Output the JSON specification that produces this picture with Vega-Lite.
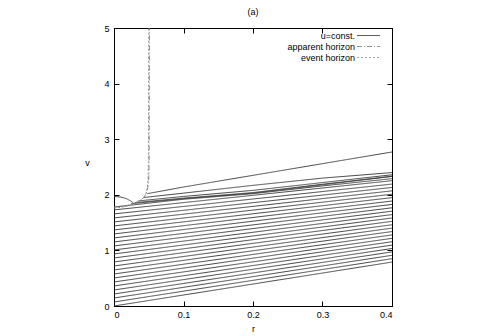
{
  "$schema": "https://vega.github.io/schema/vega-lite/v6.json",
  "width": 278,
  "height": 278,
  "autosize": {"type": "none"},
  "padding": {"left": 114, "top": 28, "right": 88, "bottom": 30},
  "background": "white",
  "title": {"text": "(a)", "fontSize": 9, "font": "Liberation Sans", "fontWeight": "normal", "color": "#000", "offset": 7},
  "config": {
    "view": {"stroke": "#000", "strokeWidth": 1},
    "font": "Liberation Sans",
    "axis": {"labelFont": "Liberation Sans", "labelFontSize": 9, "labelColor": "#000", "tickColor": "#000", "grid": false, "domain": false, "tickSize": -5, "titleFont": "Liberation Sans", "titleFontSize": 9, "titleFontWeight": "normal", "titleColor": "#000"},
    "legend": {"labelFont": "Liberation Sans", "labelFontSize": 9, "labelColor": "#000"}
  },
  "data": {"values": [
    {"k":"u=const.","id":"L0","r":0,"v":0},{"k":"u=const.","id":"L0","r":0.4,"v":0.79},
    {"k":"u=const.","id":"L1","r":0,"v":0.072},{"k":"u=const.","id":"L1","r":0.4,"v":0.851},
    {"k":"u=const.","id":"L2","r":0,"v":0.144},{"k":"u=const.","id":"L2","r":0.4,"v":0.912},
    {"k":"u=const.","id":"L3","r":0,"v":0.216},{"k":"u=const.","id":"L3","r":0.4,"v":0.973},
    {"k":"u=const.","id":"L4","r":0,"v":0.288},{"k":"u=const.","id":"L4","r":0.4,"v":1.034},
    {"k":"u=const.","id":"L5","r":0,"v":0.36},{"k":"u=const.","id":"L5","r":0.4,"v":1.095},
    {"k":"u=const.","id":"L6","r":0,"v":0.432},{"k":"u=const.","id":"L6","r":0.4,"v":1.156},
    {"k":"u=const.","id":"L7","r":0,"v":0.504},{"k":"u=const.","id":"L7","r":0.4,"v":1.217},
    {"k":"u=const.","id":"L8","r":0,"v":0.576},{"k":"u=const.","id":"L8","r":0.4,"v":1.278},
    {"k":"u=const.","id":"L9","r":0,"v":0.648},{"k":"u=const.","id":"L9","r":0.4,"v":1.339},
    {"k":"u=const.","id":"L10","r":0,"v":0.72},{"k":"u=const.","id":"L10","r":0.4,"v":1.4},
    {"k":"u=const.","id":"L11","r":0,"v":0.792},{"k":"u=const.","id":"L11","r":0.4,"v":1.461},
    {"k":"u=const.","id":"L12","r":0,"v":0.864},{"k":"u=const.","id":"L12","r":0.4,"v":1.522},
    {"k":"u=const.","id":"L13","r":0,"v":0.936},{"k":"u=const.","id":"L13","r":0.4,"v":1.583},
    {"k":"u=const.","id":"L14","r":0,"v":1.008},{"k":"u=const.","id":"L14","r":0.4,"v":1.644},
    {"k":"u=const.","id":"L15","r":0,"v":1.08},{"k":"u=const.","id":"L15","r":0.4,"v":1.705},
    {"k":"u=const.","id":"L16","r":0,"v":1.152},{"k":"u=const.","id":"L16","r":0.4,"v":1.766},
    {"k":"u=const.","id":"L17","r":0,"v":1.224},{"k":"u=const.","id":"L17","r":0.4,"v":1.827},
    {"k":"u=const.","id":"L18","r":0,"v":1.296},{"k":"u=const.","id":"L18","r":0.4,"v":1.888},
    {"k":"u=const.","id":"L19","r":0,"v":1.368},{"k":"u=const.","id":"L19","r":0.4,"v":1.949},
    {"k":"u=const.","id":"L20","r":0,"v":1.44},{"k":"u=const.","id":"L20","r":0.4,"v":2.01},
    {"k":"u=const.","id":"L21","r":0,"v":1.512},{"k":"u=const.","id":"L21","r":0.4,"v":2.071},
    {"k":"u=const.","id":"L22","r":0,"v":1.584},{"k":"u=const.","id":"L22","r":0.4,"v":2.132},
    {"k":"u=const.","id":"L23","r":0,"v":1.656},{"k":"u=const.","id":"L23","r":0.4,"v":2.193},
    {"k":"u=const.","id":"L24","r":0,"v":1.728},{"k":"u=const.","id":"L24","r":0.4,"v":2.254},
    {"k":"u=const.","id":"A","r":0,"v":1.78},{"k":"u=const.","id":"A","r":0.1,"v":1.92},{"k":"u=const.","id":"A","r":0.2,"v":2.02},{"k":"u=const.","id":"A","r":0.3,"v":2.16},{"k":"u=const.","id":"A","r":0.4,"v":2.29},
    {"k":"u=const.","id":"B1","r":0.025,"v":1.84},{"k":"u=const.","id":"B1","r":0.1,"v":1.93},{"k":"u=const.","id":"B1","r":0.2,"v":2.03},{"k":"u=const.","id":"B1","r":0.3,"v":2.18},{"k":"u=const.","id":"B1","r":0.4,"v":2.33},
    {"k":"u=const.","id":"B2","r":0.03,"v":1.86},{"k":"u=const.","id":"B2","r":0.1,"v":1.94},{"k":"u=const.","id":"B2","r":0.2,"v":2.04},{"k":"u=const.","id":"B2","r":0.3,"v":2.19},{"k":"u=const.","id":"B2","r":0.4,"v":2.335},
    {"k":"u=const.","id":"C","r":0.035,"v":1.89},{"k":"u=const.","id":"C","r":0.1,"v":1.97},{"k":"u=const.","id":"C","r":0.2,"v":2.08},{"k":"u=const.","id":"C","r":0.3,"v":2.22},{"k":"u=const.","id":"C","r":0.4,"v":2.36},
    {"k":"u=const.","id":"D","r":0.042,"v":1.95},{"k":"u=const.","id":"D","r":0.1,"v":2.03},{"k":"u=const.","id":"D","r":0.2,"v":2.17},{"k":"u=const.","id":"D","r":0.3,"v":2.3},{"k":"u=const.","id":"D","r":0.4,"v":2.4},
    {"k":"u=const.","id":"E","r":0.048,"v":2.02},{"k":"u=const.","id":"E","r":0.1,"v":2.14},{"k":"u=const.","id":"E","r":0.2,"v":2.35},{"k":"u=const.","id":"E","r":0.3,"v":2.56},{"k":"u=const.","id":"E","r":0.4,"v":2.77},
    {"k":"u=const.","id":"S","r":0,"v":1.97},{"k":"u=const.","id":"S","r":0.01,"v":1.96},{"k":"u=const.","id":"S","r":0.018,"v":1.93},{"k":"u=const.","id":"S","r":0.024,"v":1.89},{"k":"u=const.","id":"S","r":0.028,"v":1.85},
    {"k":"apparent horizon","id":"AH","r":0,"v":1.78},{"k":"apparent horizon","id":"AH","r":0.01,"v":1.79},{"k":"apparent horizon","id":"AH","r":0.02,"v":1.81},{"k":"apparent horizon","id":"AH","r":0.03,"v":1.85},{"k":"apparent horizon","id":"AH","r":0.038,"v":1.9},{"k":"apparent horizon","id":"AH","r":0.044,"v":1.97},{"k":"apparent horizon","id":"AH","r":0.047,"v":2.05},{"k":"apparent horizon","id":"AH","r":0.049,"v":2.15},{"k":"apparent horizon","id":"AH","r":0.05,"v":2.3},{"k":"apparent horizon","id":"AH","r":0.0505,"v":2.6},{"k":"apparent horizon","id":"AH","r":0.051,"v":5},
    {"k":"event horizon","id":"EH","r":0,"v":1.76},{"k":"event horizon","id":"EH","r":0.01,"v":1.775},{"k":"event horizon","id":"EH","r":0.02,"v":1.8},{"k":"event horizon","id":"EH","r":0.03,"v":1.84},{"k":"event horizon","id":"EH","r":0.038,"v":1.89},{"k":"event horizon","id":"EH","r":0.043,"v":1.95},{"k":"event horizon","id":"EH","r":0.046,"v":2.03},{"k":"event horizon","id":"EH","r":0.048,"v":2.13},{"k":"event horizon","id":"EH","r":0.049,"v":2.3},{"k":"event horizon","id":"EH","r":0.0495,"v":2.6},{"k":"event horizon","id":"EH","r":0.05,"v":5}
  ]},
  "layer": [
    {
      "mark": {"type": "line", "strokeWidth": 0.9, "clip": true},
      "encoding": {
        "x": {"field": "r", "type": "quantitative", "scale": {"domain": [0, 0.4], "nice": false, "zero": false}, "axis": {"values": [0, 0.1, 0.2, 0.3, 0.4], "format": "~g", "title": "r", "labelPadding": 9, "titlePadding": 5}},
        "y": {"field": "v", "type": "quantitative", "scale": {"domain": [0, 5], "nice": false}, "axis": {"values": [0, 1, 2, 3, 4, 5], "title": "v", "titleAngle": 0, "labelPadding": 10, "titlePadding": 17}},
        "detail": {"field": "id"},
        "color": {"field": "k", "type": "nominal", "scale": {"domain": ["u=const.", "apparent horizon", "event horizon"], "range": ["#333333", "#777777", "#888888"]},
          "legend": {"title": null, "orient": "none", "legendX": 217, "legendY": 2, "padding": 0, "symbolType": "M-2.3,0H2.3", "symbolSize": 100, "symbolStrokeWidth": 0.8, "symbolStrokeColor": "#888888", "labelAlign": "right", "labelOffset": -19, "symbolOffset": 32, "rowPadding": 0}},
        "strokeDash": {"field": "k", "type": "nominal", "scale": {"domain": ["u=const.", "apparent horizon", "event horizon"], "range": [[1, 0], [5, 2, 1, 2], [2, 2]]}}
      }
    },
    {
      "mark": {"type": "point", "opacity": 0},
      "encoding": {
        "x": {"field": "r", "type": "quantitative", "axis": {"orient": "top", "values": [0, 0.1, 0.2, 0.3, 0.4], "labels": false, "title": null}},
        "y": {"field": "v", "type": "quantitative", "axis": {"orient": "right", "values": [0, 1, 2, 3, 4, 5], "labels": false, "title": null}}
      }
    }
  ],
  "resolve": {"axis": {"x": "independent", "y": "independent"}}
}
